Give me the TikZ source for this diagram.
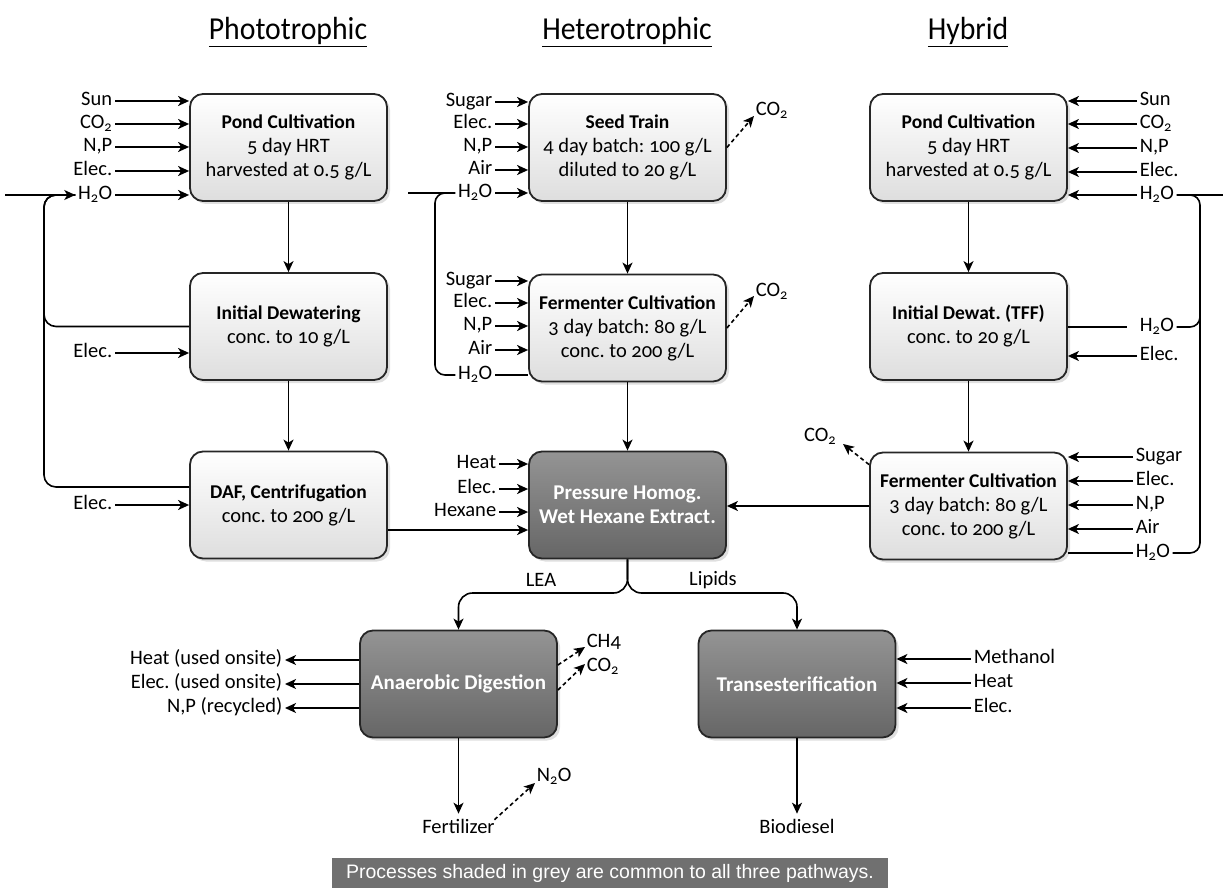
\documentclass[tikz,border=0pt]{standalone}
\usepackage{fontspec}
\setmainfont{Carlito}[Numbers=OldStyle]
\newfontfamily\headfont{Carlito}[FakeStretch=0.93]
\newfontfamily\legendfont{Liberation Sans}
\usetikzlibrary{arrows.meta,shadows,calc}
\newcommand{\ttl}[1]{{\fontsize{19.5pt}{24pt}\selectfont\bfseries #1}}
\begin{document}
\frenchspacing
\begin{tikzpicture}[x=1pt,y=-1pt,
  font=\fontsize{20.5pt}{24pt}\selectfont,
  line width=1.6pt,
  arr/.style={-{Stealth[length=11pt,width=10pt,inset=3pt]}},
  dasharr/.style={arr, dash pattern=on 4pt off 3pt},
  procbox/.style={draw=black!85, line width=1.8pt, rounded corners=13pt,
    minimum width=197pt, minimum height=107pt, align=center, inner sep=0pt,
    top color=white, bottom color=black!13,
    drop shadow={shadow xshift=3pt,shadow yshift=-3pt,opacity=0.25}},
  darkbox/.style={procbox, top color=black!42, bottom color=black!60, text=white,
    font=\fontsize{21pt}{24pt}\selectfont\bfseries},
  lbl/.style={inner xsep=2pt, inner ysep=0pt, text height=13pt, text depth=4pt},
  gas/.style={lbl, inner xsep=1pt},
  header/.style={font=\headfont\fontsize{32pt}{36pt}\selectfont},
]
\useasboundingbox (0,0) rectangle (1223,890);

% headers
\node[header, anchor=base] (hp) at (288,40) {\underline{Phototrophic}};
\node[header, anchor=base] (hh) at (627,40) {\underline{Heterotrophic}};
\node[header, anchor=base] (hy) at (968,40) {\underline{Hybrid}};

% boxes
\node[procbox] (pc1) at (288.5,147.5) {\ttl{Pond Cultivation}\\5 day HRT\\harvested at 0.5 g/L};
\node[procbox] (id1) at (288.5,326.5) {\ttl{Initial Dewatering}\\conc. to 10 g/L};
\node[procbox] (daf) at (288.5,505) {\ttl{DAF, Centrifugation}\\conc. to 200 g/L};
\node[procbox] (st) at (627.5,147.5) {\ttl{Seed Train}\\4 day batch: 100 g/L\\diluted to 20 g/L};
\node[procbox] (fc) at (627.5,328) {\ttl{Fermenter Cultivation}\\3 day batch: 80 g/L\\conc. to 200 g/L};
\node[darkbox] (ph) at (627.5,505) {Pressure Homog.\\Wet Hexane Extract.};
\node[procbox] (pc3) at (968.5,147.5) {\ttl{Pond Cultivation}\\5 day HRT\\harvested at 0.5 g/L};
\node[procbox] (id3) at (968.5,326.5) {\ttl{Initial Dewat. (TFF)}\\conc. to 20 g/L};
\node[procbox] (fc3) at (968.5,506) {\ttl{Fermenter Cultivation}\\3 day batch: 80 g/L\\conc. to 200 g/L};
\node[darkbox] (ad) at (458.5,684) {Anaerobic Digestion};
\node[darkbox] (tr) at (797,684) {Transesterification};

% ---------- Phototrophic ----------
\node[lbl,anchor=east] (p1a) at (115,101) {Sun};
\node[lbl,anchor=east] (p1b) at (115,124) {CO\textsubscript{2}};
\node[lbl,anchor=east] (p1c) at (115,147) {N,P};
\node[lbl,anchor=east] (p1d) at (115,171) {Elec.};
\node[lbl,anchor=east] (p1e) at (115,195) {H\textsubscript{2}O};
\foreach \n in {p1a,p1b,p1c,p1d,p1e} \draw[arr] (\n) -- (\n -| pc1.west);
\coordinate (p1in) at (5,195);
\coordinate (p1loop) at (44,195);
\draw[arr] (p1in) -- (p1e);
\node[lbl,anchor=east] (p1f) at (115,353) {Elec.};
\node[lbl,anchor=east] (p1g) at (115,505) {Elec.};
\draw[arr] (p1f) -- (p1f -| id1.west);
\draw[arr] (p1g) -- (p1g -| daf.west);
\draw[rounded corners=12pt] (id1.west) -| (p1loop) -- (p1e.west);
\draw[rounded corners=12pt] ([yshift=18pt]daf.west) -| (p1loop) -- (p1e.west);
\draw[arr] (pc1) -- (id1);
\draw[arr] (id1) -- (daf);
\draw[arr] ([yshift=-25pt]daf.east) -- ([yshift=-25pt]daf.east -| ph.west);

% ---------- Heterotrophic ----------
\node[lbl,anchor=east] (h1a) at (495,102) {Sugar};
\node[lbl,anchor=east] (h1b) at (495,124) {Elec.};
\node[lbl,anchor=east] (h1c) at (495,147) {N,P};
\node[lbl,anchor=east] (h1d) at (495,170) {Air};
\node[lbl,anchor=east] (h1e) at (495,193) {H\textsubscript{2}O};
\foreach \n in {h1a,h1b,h1c,h1d,h1e} \draw[arr] (\n) -- (\n -| st.west);
\node[lbl,anchor=east] (h2a) at (495,281) {Sugar};
\node[lbl,anchor=east] (h2b) at (495,303) {Elec.};
\node[lbl,anchor=east] (h2c) at (495,326) {N,P};
\node[lbl,anchor=east] (h2d) at (495,350) {Air};
\node[lbl,anchor=east] (h2e) at (495,375) {H\textsubscript{2}O};
\foreach \n in {h2a,h2b,h2c,h2d} \draw[arr] (\n) -- (\n -| fc.west);
\draw (h2e) -- (h2e -| fc.west);
\coordinate (hin) at (408,193);
\coordinate (hloop) at (435,193);
\draw (hin) -- (h1e);
\draw[rounded corners=10pt] (h2e.west) -| (hloop) -- (h1e.west);
\node[gas,anchor=west] (g1) at (754,111) {CO\textsubscript{2}};
\draw[dasharr] (st.east) -- ([yshift=-5pt]g1.west);
\node[gas,anchor=west] (g2) at (754,292) {CO\textsubscript{2}};
\draw[dasharr] (fc.east) -- ([yshift=-4pt]g2.west);
\draw[arr] (st) -- (fc);
\draw[arr] (fc) -- (ph);

% Pressure inputs
\node[lbl,anchor=east] (x1) at (499,464) {Heat};
\node[lbl,anchor=east] (x2) at (499,489) {Elec.};
\node[lbl,anchor=east] (x3) at (499,512) {Hexane};
\foreach \n in {x1,x2,x3} \draw[arr] (\n) -- (\n -| ph.west);

% ---------- Hybrid ----------
\node[lbl,anchor=west] (y1a) at (1137,101) {Sun};
\node[lbl,anchor=west] (y1b) at (1137,124) {CO\textsubscript{2}};
\node[lbl,anchor=west] (y1c) at (1137,148) {N,P};
\node[lbl,anchor=west] (y1d) at (1137,172) {Elec.};
\node[lbl,anchor=west] (y1e) at (1137,195) {H\textsubscript{2}O};
\foreach \n in {y1a,y1b,y1c,y1d,y1e} \draw[arr] (\n) -- (\n -| pc3.east);
\coordinate (yin) at (1223,195);
\coordinate (yloop) at (1200,195);
\draw (y1e) -- (yin);
\node[lbl,anchor=west] (y2a) at (1137,327) {H\textsubscript{2}O};
\node[lbl,anchor=west] (y2b) at (1137,356) {Elec.};
\draw (y2a.west -| id3.east) -- ([xshift=-10pt]y2a.west);
\coordinate (ymid) at (1200,290);
\draw[rounded corners=10pt] (y2a.east) -| (ymid);
\draw[arr] (y2b) -- (y2b -| id3.east);
\node[lbl,anchor=west] (y3a) at (1133,457) {Sugar};
\node[lbl,anchor=west] (y3b) at (1133,481) {Elec.};
\node[lbl,anchor=west] (y3c) at (1133,505) {N,P};
\node[lbl,anchor=west] (y3d) at (1133,529) {Air};
\node[lbl,anchor=west] (y3e) at (1133,553) {H\textsubscript{2}O};
\foreach \n in {y3a,y3b,y3c,y3d} \draw[arr] (\n) -- (\n -| fc3.east);
\draw (y3e -| fc3.east) -- (y3e);
\draw[rounded corners=10pt] (y3e.east) -| (yloop) -- (y1e.east);
\node[gas,anchor=east] (g3) at (838,437) {CO\textsubscript{2}};
\draw[dasharr] ([yshift=-13pt]fc3.north west) -- ([xshift=5pt,yshift=-7pt]g3.east);
\draw[arr] (pc3) -- (id3);
\draw[arr] (id3) -- (fc3);
\draw[arr] (fc3.west) -- (fc3.west -| ph.east);

% ---------- branch ----------
\coordinate (br) at (627.5,593);
\draw[arr, rounded corners=14pt] (ph.south) -- (br) -| (ad.north);
\draw[arr, rounded corners=14pt] (ph.south) -- (br) -| (tr.north);
\node (lea) at (541,580) {LEA};
\node (lip) at (713,580) {Lipids};

% AD
\node[lbl,anchor=east] (a1) at (285,660) {Heat (used onsite)};
\node[lbl,anchor=east] (a2) at (285,684) {Elec. (used onsite)};
\node[lbl,anchor=east] (a3) at (285,708) {N,P (recycled)};
\foreach \n in {a1,a2,a3} \draw[arr] (\n -| ad.west) -- (\n);
\node[gas,anchor=west] (g4) at (585,643) {CH4};
\node[gas,anchor=west] (g5) at (585,667) {CO\textsubscript{2}};
\draw[dasharr] ([yshift=19pt]ad.east) -- ([yshift=-4pt]g4.west);
\draw[dasharr] ([yshift=-6pt]ad.east) -- ([yshift=3pt]g5.west);
\node[lbl] (fert) at (458.5,829) {Fertilizer};
\draw[arr, shorten >=6pt] (ad) -- (fert);
\node[gas,anchor=west] (g6) at (535,777) {N\textsubscript{2}O};
\draw[dasharr] ([xshift=-3pt]fert.north east) -- ([yshift=-6pt]g6.west);

% Transesterification
\node[lbl,anchor=west] (t1) at (971,659) {Methanol};
\node[lbl,anchor=west] (t2) at (971,683) {Heat};
\node[lbl,anchor=west] (t3) at (971,708) {Elec.};
\foreach \n in {t1,t2,t3} \draw[arr] (\n) -- (\n -| tr.east);
\node[lbl] (bio) at (797,829) {Biodiesel};
\draw[arr, shorten >=6pt] (tr) -- (bio);

% legend
\node[fill=black!56, text=white, minimum width=556pt, minimum height=30pt, inner sep=0pt,
  font=\legendfont\fontsize{19.5pt}{22pt}\selectfont] (leg) at (610,873)
  {Processes shaded in grey are common to all three pathways.};
\end{tikzpicture}
\end{document}
